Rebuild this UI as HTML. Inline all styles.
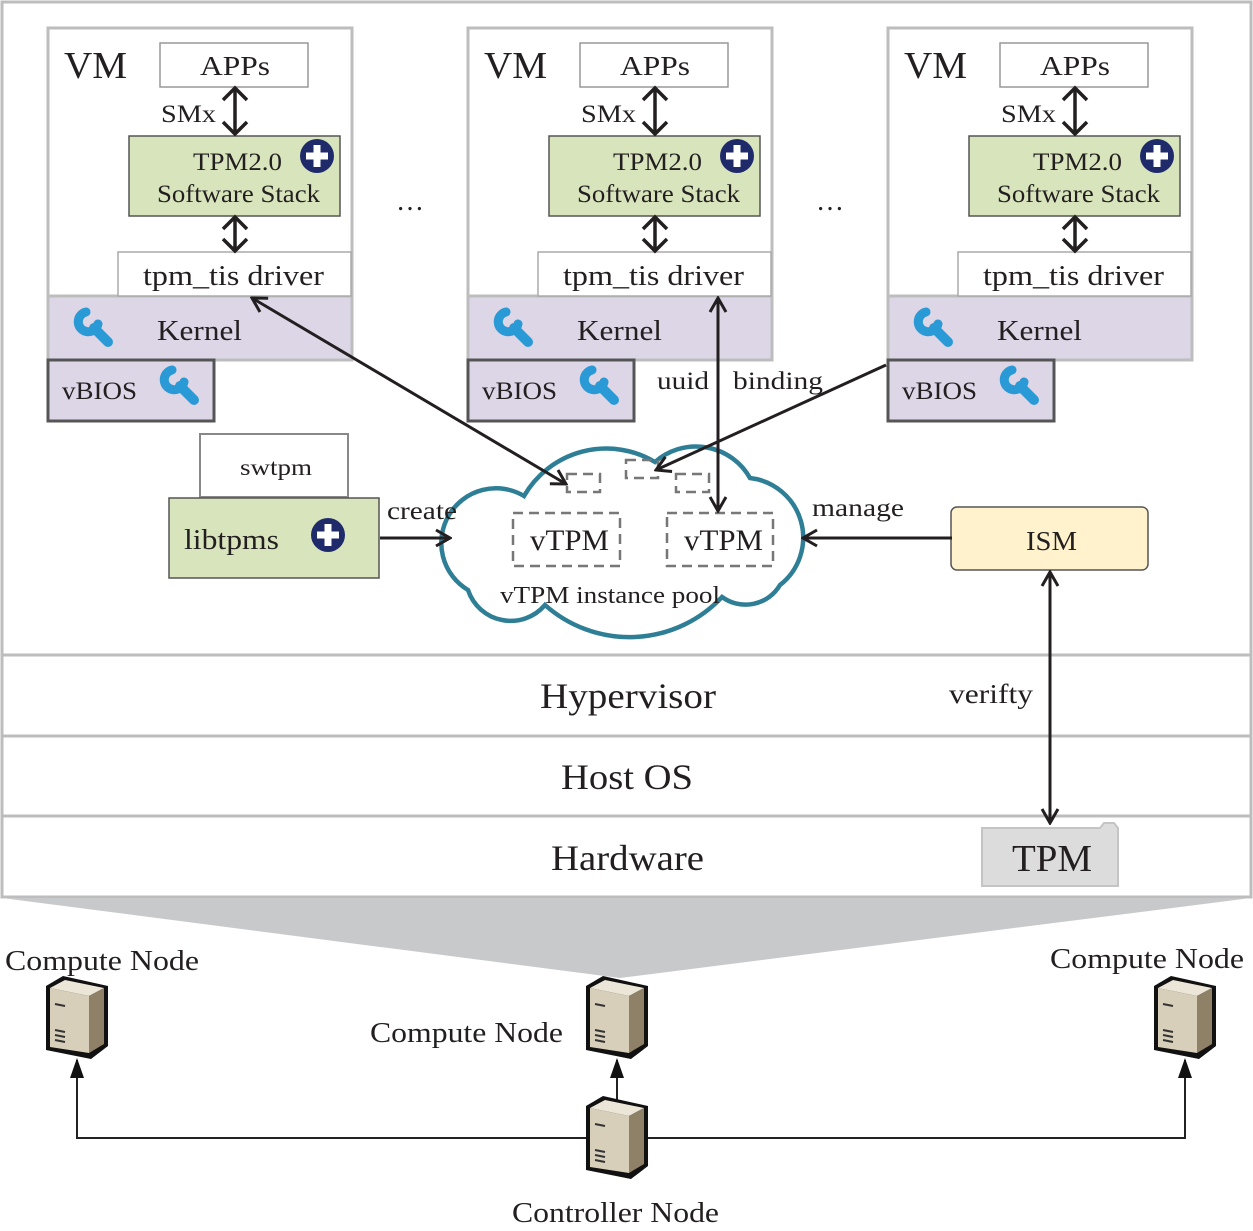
<!DOCTYPE html>
<html><head><meta charset="utf-8"><style>html,body{margin:0;padding:0;background:#fff}svg{display:block}text{font-family:"Liberation Serif",serif;fill:#231f20}</style></head><body>
<svg width="1253" height="1231" viewBox="0 0 1253 1231" xmlns="http://www.w3.org/2000/svg">
<defs>
<g id="plus"><circle r="17" fill="#1f2a6b"/><rect x="-11" y="-3.5" width="22" height="7" fill="#fff"/><rect x="-3.5" y="-11" width="7" height="22" fill="#fff"/></g>
<g id="wrench" fill="none" stroke="#2a9ad6" stroke-linecap="round"><path d="M-6,-14 A10,10 0 1 0 6,-2" stroke-width="9"/><line x1="2" y1="2" x2="16" y2="16" stroke-width="10"/></g>
<g id="vm">
<rect x="48" y="28" width="304" height="332" fill="#fff" stroke="#bdbdbd" stroke-width="3"/>
<rect x="48" y="296" width="304" height="64" fill="#dcd6e6" stroke="#bdbdbd" stroke-width="3"/>
<rect x="160" y="43" width="148" height="44" fill="#fff" stroke="#999" stroke-width="1.5"/>
<rect x="129" y="136" width="211" height="80" fill="#d8e4bc" stroke="#555" stroke-width="1.5"/>
<rect x="118" y="252" width="233" height="44" fill="#fff" stroke="#aaa" stroke-width="1.5"/>
<rect x="48" y="360" width="166" height="61" fill="#dcd6e6" stroke="#555" stroke-width="3"/>
<text x="64" y="78" font-size="38" textLength="63" lengthAdjust="spacingAndGlyphs">VM</text>
<text x="200" y="75" font-size="27" textLength="70" lengthAdjust="spacingAndGlyphs">APPs</text>
<text x="161" y="122" font-size="25" textLength="55" lengthAdjust="spacingAndGlyphs">SMx</text>
<text x="193" y="170" font-size="25" textLength="89" lengthAdjust="spacingAndGlyphs">TPM2.0</text>
<text x="157" y="202" font-size="25" textLength="163" lengthAdjust="spacingAndGlyphs">Software Stack</text>
<text x="143" y="285" font-size="28" textLength="181" lengthAdjust="spacingAndGlyphs">tpm_tis driver</text>
<text x="157" y="340" font-size="28" textLength="85" lengthAdjust="spacingAndGlyphs">Kernel</text>
<text x="62" y="399" font-size="25" textLength="75" lengthAdjust="spacingAndGlyphs">vBIOS</text>
<use href="#plus" x="317" y="156"/>
<use href="#wrench" x="92" y="326"/>
<use href="#wrench" x="178" y="384"/>
<g stroke="#231f20" stroke-width="3.5" fill="none"><line x1="235" y1="88" x2="235" y2="134"/><polyline points="223,100 235,88 247,100"/><polyline points="223,122 235,134 247,122"/><line x1="235" y1="218" x2="235" y2="250"/><polyline points="223,229 235,217 247,229"/><polyline points="223,239 235,251 247,239"/></g>
</g>
<marker id="oa" viewBox="0 0 20 20" refX="18" refY="10" markerWidth="20" markerHeight="20" markerUnits="userSpaceOnUse" orient="auto-start-reverse"><polyline points="4,2 18,10 4,18" fill="none" stroke="#231f20" stroke-width="3"/></marker>
<marker id="fa" viewBox="0 0 20 20" refX="18" refY="10" markerWidth="20" markerHeight="20" markerUnits="userSpaceOnUse" orient="auto"><polygon points="0,3 20,10 0,17" fill="#111"/></marker>
<g id="srv"><polygon points="-31,-32 -14,-42 31,-32 31,28 14,41 -31,32" fill="#111"/><polygon points="-27,-30 -12,-38 27,-30 12,-22" fill="#ece6d8"/><polygon points="12,-22 27,-30 27,26 12,35" fill="#8f8168"/><polygon points="-27,-30 12,-22 12,35 -27,29" fill="#d8cfbb"/><line x1="-22" y1="12" x2="-12" y2="14" stroke="#333" stroke-width="2"/><line x1="-22" y1="17" x2="-12" y2="19" stroke="#333" stroke-width="2"/><line x1="-22" y1="22" x2="-12" y2="24" stroke="#333" stroke-width="2"/><line x1="-22" y1="-14" x2="-12" y2="-12" stroke="#333" stroke-width="2"/></g>
</defs>
<rect x="2" y="2" width="1249" height="895" fill="#fff" stroke="#bdbdbd" stroke-width="3"/>
<line x1="2" y1="655" x2="1251" y2="655" stroke="#bdbdbd" stroke-width="3"/>
<line x1="2" y1="736" x2="1251" y2="736" stroke="#bdbdbd" stroke-width="3"/>
<line x1="2" y1="816" x2="1251" y2="816" stroke="#bdbdbd" stroke-width="3"/>
<text x="540" y="708" font-size="36" textLength="176" lengthAdjust="spacingAndGlyphs">Hypervisor</text>
<text x="561" y="789" font-size="36" textLength="132" lengthAdjust="spacingAndGlyphs">Host OS</text>
<text x="551" y="870" font-size="36" textLength="153" lengthAdjust="spacingAndGlyphs">Hardware</text>
<use href="#vm"/><use href="#vm" x="420"/><use href="#vm" x="840"/>
<text x="410" y="210" font-size="28" text-anchor="middle">…</text>
<text x="830" y="210" font-size="28" text-anchor="middle">…</text>
<rect x="200" y="434" width="148" height="63" fill="#fff" stroke="#888" stroke-width="2"/>
<text x="240" y="475" font-size="23" textLength="72" lengthAdjust="spacingAndGlyphs">swtpm</text>
<rect x="169" y="498" width="210" height="80" fill="#d8e4bc" stroke="#555" stroke-width="1.5"/>
<text x="184" y="549" font-size="29" textLength="95" lengthAdjust="spacingAndGlyphs">libtpms</text>
<use href="#plus" x="328" y="535"/>
<rect x="951" y="507" width="197" height="63" rx="6" fill="#fff2cc" stroke="#555" stroke-width="1.5"/>
<text x="1026" y="550" font-size="27" textLength="51" lengthAdjust="spacingAndGlyphs">ISM</text>
<path d="M982,828 L1100,828 L1104,823 L1114,823 L1118,828 L1118,886 L982,886 Z" fill="#dcdcdc" stroke="#c4c4c4" stroke-width="2"/>
<text x="1012" y="871" font-size="38" textLength="80" lengthAdjust="spacingAndGlyphs">TPM</text>
<path d="M468,590 A45,45 0 0 1 524,496 A95,95 0 0 1 655,462 A62,62 0 0 1 750,478 A60,60 0 0 1 780,585 A40,40 0 0 1 722,597 A127,127 0 0 1 545,605 A45,45 0 0 1 468,590 Z" fill="#fff" stroke="#2e7f96" stroke-width="4.5"/>
<g fill="none" stroke="#777" stroke-width="2.5" stroke-dasharray="10,6">
<rect x="513" y="513" width="107" height="53"/><rect x="667" y="513" width="106" height="53"/>
<rect x="567" y="474" width="33" height="18"/><rect x="626" y="460" width="32" height="18"/><rect x="676" y="474" width="33" height="18"/>
</g>
<text x="530" y="550" font-size="30" textLength="79" lengthAdjust="spacingAndGlyphs">vTPM</text>
<text x="684" y="550" font-size="30" textLength="79" lengthAdjust="spacingAndGlyphs">vTPM</text>
<text x="500" y="603" font-size="24" textLength="220" lengthAdjust="spacingAndGlyphs">vTPM instance pool</text>
<g stroke="#231f20" stroke-width="3" fill="none">
<line x1="252" y1="298" x2="566" y2="484" marker-start="url(#oa)" marker-end="url(#oa)"/>
<line x1="886" y1="365" x2="656" y2="470" marker-end="url(#oa)"/>
<line x1="718" y1="298" x2="718" y2="511" marker-start="url(#oa)" marker-end="url(#oa)"/>
<line x1="380" y1="538" x2="450" y2="538" marker-end="url(#oa)"/>
<line x1="952" y1="538" x2="803" y2="538" marker-end="url(#oa)"/>
<line x1="1050" y1="572" x2="1050" y2="823" marker-start="url(#oa)" marker-end="url(#oa)"/>
</g>
<text x="657" y="389" font-size="25" textLength="52" lengthAdjust="spacingAndGlyphs">uuid</text>
<text x="733" y="389" font-size="25" textLength="90" lengthAdjust="spacingAndGlyphs">binding</text>
<text x="387" y="519" font-size="25" textLength="70" lengthAdjust="spacingAndGlyphs">create</text>
<text x="812" y="516" font-size="25" textLength="92" lengthAdjust="spacingAndGlyphs">manage</text>
<text x="949" y="703" font-size="27" textLength="84" lengthAdjust="spacingAndGlyphs">verifty</text>
<polygon points="2,898 1251,898 620,978" fill="#c8c9cb"/>
<g stroke="#222" stroke-width="2" fill="none">
<polyline points="600,1138 77,1138 77,1060" marker-end="url(#fa)"/>
<polyline points="640,1138 1185,1138 1185,1060" marker-end="url(#fa)"/>
<line x1="617" y1="1100" x2="617" y2="1060" marker-end="url(#fa)"/>
</g>
<use href="#srv" x="77" y="1018"/><use href="#srv" x="617" y="1018"/><use href="#srv" x="1185" y="1018"/><use href="#srv" x="617" y="1138"/>
<text x="5" y="970" font-size="29" textLength="194" lengthAdjust="spacingAndGlyphs">Compute Node</text>
<text x="370" y="1042" font-size="29" textLength="193" lengthAdjust="spacingAndGlyphs">Compute Node</text>
<text x="1050" y="968" font-size="29" textLength="194" lengthAdjust="spacingAndGlyphs">Compute Node</text>
<text x="512" y="1222" font-size="29" textLength="207" lengthAdjust="spacingAndGlyphs">Controller Node</text>
</svg>
</body></html>
